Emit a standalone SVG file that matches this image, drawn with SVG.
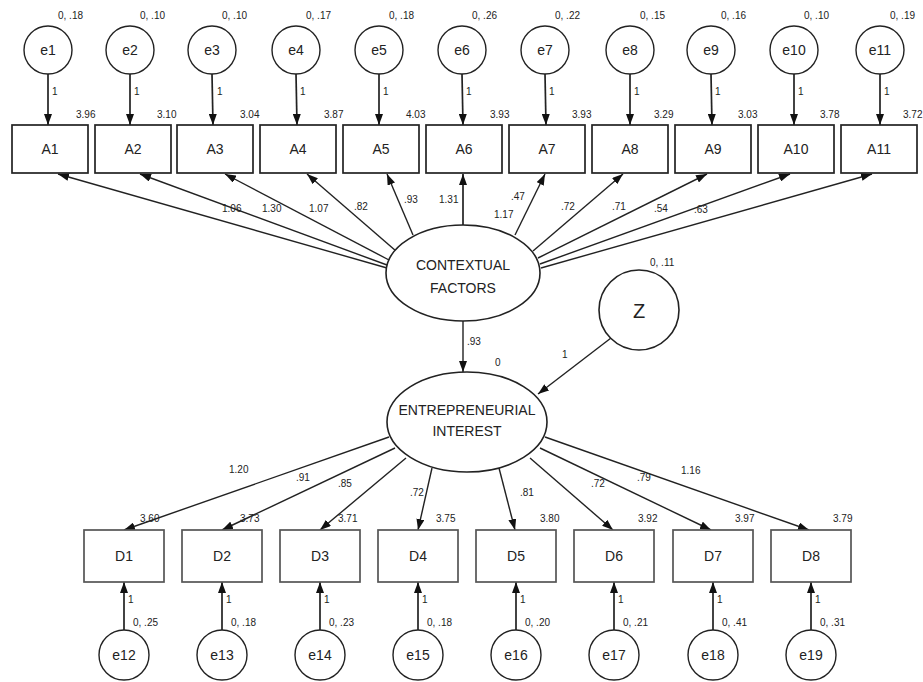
<svg xmlns="http://www.w3.org/2000/svg" width="923" height="682" viewBox="0 0 923 682">
<defs>
<marker id="ah" markerUnits="userSpaceOnUse" markerWidth="12" markerHeight="8" refX="11" refY="4" orient="auto">
<path d="M0,0 L11,4 L0,8 z" fill="#111"/>
</marker>
<style>
text{font-family:"Liberation Sans",Arial,sans-serif;fill:#222}
.nt{font-size:14px;text-anchor:middle}
.lt{font-size:14px;text-anchor:middle}
.sm{font-size:10px}
.box{fill:#fff;stroke:#222;stroke-width:1.7}
.dbox{fill:#fff;stroke:#555;stroke-width:1.7}
.err{fill:#fff;stroke:#222;stroke-width:1.4}
.lat{fill:#fff;stroke:#222;stroke-width:1.6}
.c{stroke:#222;stroke-width:1.4;fill:none;marker-end:url(#ah)}
.cv{stroke:#222;stroke-width:1.7;fill:none;marker-end:url(#ah)}
</style>
</defs>
<rect width="923" height="682" fill="#fff"/>

<g id="connectors">
<line class="cv" x1="48" y1="74" x2="48" y2="125"/>
<line class="cv" x1="130" y1="74" x2="130" y2="125"/>
<line class="cv" x1="212" y1="74" x2="213" y2="125"/>
<line class="cv" x1="296" y1="74" x2="297" y2="125"/>
<line class="cv" x1="379" y1="74" x2="379" y2="125"/>
<line class="cv" x1="462" y1="74" x2="463" y2="125"/>
<line class="cv" x1="545" y1="74" x2="546" y2="125"/>
<line class="cv" x1="630" y1="74" x2="630" y2="125"/>
<line class="cv" x1="711" y1="74" x2="712" y2="125"/>
<line class="cv" x1="794" y1="74" x2="794" y2="125"/>
<line class="cv" x1="880" y1="74" x2="880" y2="125"/>
<line class="c" x1="387" y1="268" x2="58" y2="174"/>
<line class="c" x1="387" y1="265" x2="140" y2="174"/>
<line class="c" x1="389" y1="260" x2="225" y2="174"/>
<line class="c" x1="396" y1="251" x2="307" y2="174"/>
<line class="c" x1="413" y1="235" x2="387" y2="174"/>
<line class="cv" x1="463" y1="225" x2="463" y2="174"/>
<line class="c" x1="515" y1="235" x2="545" y2="174"/>
<line class="c" x1="533" y1="251" x2="623" y2="174"/>
<line class="c" x1="538" y1="258" x2="707" y2="174"/>
<line class="c" x1="540" y1="264" x2="790" y2="174"/>
<line class="c" x1="541" y1="268" x2="872" y2="174"/>
<line class="c" x1="463" y1="321" x2="463" y2="372"/>
<line class="c" x1="611" y1="338" x2="538" y2="394"/>
<line class="c" x1="389" y1="437" x2="124" y2="530"/>
<line class="c" x1="395" y1="448" x2="222" y2="530"/>
<line class="c" x1="406" y1="458" x2="320" y2="530"/>
<line class="c" x1="432" y1="468" x2="418" y2="530"/>
<line class="c" x1="499" y1="468" x2="515" y2="530"/>
<line class="c" x1="530" y1="458" x2="613" y2="530"/>
<line class="c" x1="540" y1="448" x2="711" y2="530"/>
<line class="c" x1="545" y1="437" x2="809" y2="530"/>
<line class="cv" x1="124" y1="630" x2="124" y2="582"/>
<line class="cv" x1="222" y1="630" x2="222" y2="582"/>
<line class="cv" x1="320" y1="630" x2="320" y2="582"/>
<line class="cv" x1="418" y1="630" x2="418" y2="582"/>
<line class="cv" x1="516" y1="630" x2="516" y2="582"/>
<line class="cv" x1="614" y1="630" x2="614" y2="582"/>
<line class="cv" x1="713" y1="630" x2="713" y2="582"/>
<line class="cv" x1="811" y1="630" x2="811" y2="582"/>
</g>

<g id="connector-labels" class="sm">
<text x="52" y="95">1</text><text x="134" y="95">1</text><text x="217" y="95">1</text><text x="300" y="95">1</text>
<text x="383" y="95">1</text><text x="466" y="95">1</text><text x="549" y="95">1</text><text x="634" y="95">1</text>
<text x="715" y="95">1</text><text x="798" y="95">1</text><text x="884" y="95">1</text>
<text x="222" y="212">1.06</text>
<text x="262" y="212">1.30</text>
<text x="309" y="212">1.07</text>
<text x="354" y="210">.82</text>
<text x="404" y="203">.93</text>
<text x="439" y="203">1.31</text>
<text x="511" y="200">.47</text>
<text x="494" y="218">1.17</text>
<text x="561" y="210">.72</text>
<text x="612" y="210">.71</text>
<text x="654" y="212">.54</text>
<text x="694" y="213">.63</text>
<text x="467" y="345">.93</text>
<text x="562" y="358">1</text>
<text x="229" y="473">1.20</text>
<text x="296" y="481">.91</text>
<text x="338" y="487">.85</text>
<text x="410" y="496">.72</text>
<text x="520" y="496">.81</text>
<text x="591" y="487">.72</text>
<text x="637" y="481">.79</text>
<text x="681" y="474">1.16</text>
<text x="128" y="603">1</text><text x="226" y="603">1</text><text x="324" y="603">1</text><text x="422" y="603">1</text>
<text x="520" y="603">1</text><text x="618" y="603">1</text><text x="717" y="603">1</text><text x="815" y="603">1</text>
</g>

<g id="e1"><circle class="err" cx="48" cy="50" r="24"/><text class="nt" x="48" y="55">e1</text><text class="sm" x="58" y="19">0, .18</text></g>
<g id="e2"><circle class="err" cx="130" cy="50" r="24"/><text class="nt" x="130" y="55">e2</text><text class="sm" x="140" y="19">0, .10</text></g>
<g id="e3"><circle class="err" cx="212" cy="50" r="24"/><text class="nt" x="212" y="55">e3</text><text class="sm" x="222" y="19">0, .10</text></g>
<g id="e4"><circle class="err" cx="296" cy="50" r="24"/><text class="nt" x="296" y="55">e4</text><text class="sm" x="306" y="19">0, .17</text></g>
<g id="e5"><circle class="err" cx="379" cy="50" r="24"/><text class="nt" x="379" y="55">e5</text><text class="sm" x="389" y="19">0, .18</text></g>
<g id="e6"><circle class="err" cx="462" cy="50" r="24"/><text class="nt" x="462" y="55">e6</text><text class="sm" x="472" y="19">0, .26</text></g>
<g id="e7"><circle class="err" cx="545" cy="50" r="24"/><text class="nt" x="545" y="55">e7</text><text class="sm" x="555" y="19">0, .22</text></g>
<g id="e8"><circle class="err" cx="630" cy="50" r="24"/><text class="nt" x="630" y="55">e8</text><text class="sm" x="640" y="19">0, .15</text></g>
<g id="e9"><circle class="err" cx="711" cy="50" r="24"/><text class="nt" x="711" y="55">e9</text><text class="sm" x="721" y="19">0, .16</text></g>
<g id="e10"><circle class="err" cx="794" cy="50" r="24"/><text class="nt" x="794" y="55">e10</text><text class="sm" x="804" y="19">0, .10</text></g>
<g id="e11"><circle class="err" cx="880" cy="50" r="24"/><text class="nt" x="880" y="55">e11</text><text class="sm" x="890" y="19">0, .19</text></g>

<g id="A1"><rect class="box" x="12" y="125" width="76" height="48"/><text class="nt" x="50" y="154">A1</text><text class="sm" x="76" y="118">3.96</text></g>
<g id="A2"><rect class="box" x="95" y="125" width="76" height="48"/><text class="nt" x="133" y="154">A2</text><text class="sm" x="157" y="118">3.10</text></g>
<g id="A3"><rect class="box" x="177" y="125" width="76" height="48"/><text class="nt" x="215" y="154">A3</text><text class="sm" x="240" y="118">3.04</text></g>
<g id="A4"><rect class="box" x="260" y="125" width="76" height="48"/><text class="nt" x="298" y="154">A4</text><text class="sm" x="324" y="118">3.87</text></g>
<g id="A5"><rect class="box" x="343" y="125" width="76" height="48"/><text class="nt" x="381" y="154">A5</text><text class="sm" x="406" y="118">4.03</text></g>
<g id="A6"><rect class="box" x="426" y="125" width="76" height="48"/><text class="nt" x="464" y="154">A6</text><text class="sm" x="490" y="118">3.93</text></g>
<g id="A7"><rect class="box" x="509" y="125" width="76" height="48"/><text class="nt" x="547" y="154">A7</text><text class="sm" x="572" y="118">3.93</text></g>
<g id="A8"><rect class="box" x="592" y="125" width="76" height="48"/><text class="nt" x="630" y="154">A8</text><text class="sm" x="654" y="118">3.29</text></g>
<g id="A9"><rect class="box" x="675" y="125" width="76" height="48"/><text class="nt" x="713" y="154">A9</text><text class="sm" x="738" y="118">3.03</text></g>
<g id="A10"><rect class="box" x="758" y="125" width="76" height="48"/><text class="nt" x="796" y="154">A10</text><text class="sm" x="820" y="118">3.78</text></g>
<g id="A11"><rect class="box" x="841" y="125" width="76" height="48"/><text class="nt" x="879" y="154">A11</text><text class="sm" x="903" y="118">3.72</text></g>

<g id="contextual-factors"><ellipse class="lat" cx="463" cy="273" rx="77" ry="48"/><text class="lt" x="463" y="270">CONTEXTUAL</text><text class="lt" x="463" y="293">FACTORS</text></g>

<g id="Z"><circle class="lat" cx="639" cy="310" r="40"/><text x="639" y="318" style="font-size:20px;text-anchor:middle">Z</text><text class="sm" x="650" y="266">0, .11</text></g>

<g id="entrepreneurial-interest"><ellipse class="lat" cx="467" cy="422" rx="80" ry="50"/><text class="lt" x="467" y="415">ENTREPRENEURIAL</text><text class="lt" x="467" y="436">INTEREST</text><text class="sm" x="495" y="366">0</text></g>

<g id="D1"><rect class="dbox" x="84" y="530" width="80" height="52"/><text class="nt" x="124" y="561">D1</text><text class="sm" x="140" y="522">3.60</text></g>
<g id="D2"><rect class="dbox" x="182" y="530" width="80" height="52"/><text class="nt" x="222" y="561">D2</text><text class="sm" x="240" y="522">3.73</text></g>
<g id="D3"><rect class="dbox" x="280" y="530" width="80" height="52"/><text class="nt" x="320" y="561">D3</text><text class="sm" x="338" y="522">3.71</text></g>
<g id="D4"><rect class="dbox" x="378" y="530" width="80" height="52"/><text class="nt" x="418" y="561">D4</text><text class="sm" x="436" y="522">3.75</text></g>
<g id="D5"><rect class="dbox" x="476" y="530" width="80" height="52"/><text class="nt" x="516" y="561">D5</text><text class="sm" x="540" y="522">3.80</text></g>
<g id="D6"><rect class="dbox" x="574" y="530" width="80" height="52"/><text class="nt" x="614" y="561">D6</text><text class="sm" x="638" y="522">3.92</text></g>
<g id="D7"><rect class="dbox" x="673" y="530" width="80" height="52"/><text class="nt" x="713" y="561">D7</text><text class="sm" x="735" y="522">3.97</text></g>
<g id="D8"><rect class="dbox" x="771" y="530" width="80" height="52"/><text class="nt" x="811" y="561">D8</text><text class="sm" x="833" y="522">3.79</text></g>

<g id="e12"><circle class="err" cx="124" cy="655" r="25"/><text class="nt" x="124" y="660">e12</text><text class="sm" x="133" y="626">0, .25</text></g>
<g id="e13"><circle class="err" cx="222" cy="655" r="25"/><text class="nt" x="222" y="660">e13</text><text class="sm" x="231" y="626">0, .18</text></g>
<g id="e14"><circle class="err" cx="320" cy="655" r="25"/><text class="nt" x="320" y="660">e14</text><text class="sm" x="329" y="626">0, .23</text></g>
<g id="e15"><circle class="err" cx="418" cy="655" r="25"/><text class="nt" x="418" y="660">e15</text><text class="sm" x="427" y="626">0, .18</text></g>
<g id="e16"><circle class="err" cx="516" cy="655" r="25"/><text class="nt" x="516" y="660">e16</text><text class="sm" x="525" y="626">0, .20</text></g>
<g id="e17"><circle class="err" cx="614" cy="655" r="25"/><text class="nt" x="614" y="660">e17</text><text class="sm" x="623" y="626">0, .21</text></g>
<g id="e18"><circle class="err" cx="713" cy="655" r="25"/><text class="nt" x="713" y="660">e18</text><text class="sm" x="722" y="626">0, .41</text></g>
<g id="e19"><circle class="err" cx="811" cy="655" r="25"/><text class="nt" x="811" y="660">e19</text><text class="sm" x="820" y="626">0, .31</text></g>
</svg>
